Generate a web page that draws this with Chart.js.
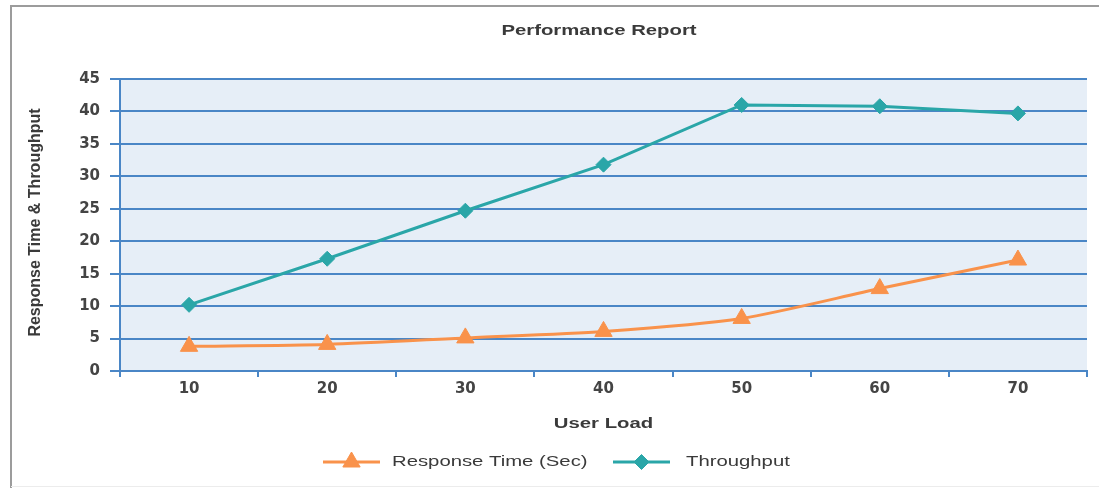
<!DOCTYPE html>
<html>
<head>
<meta charset="utf-8">
<script src="https://cdn.jsdelivr.net/npm/chart.js@4"></script>
<style>
  html, body { margin: 0; padding: 0; background: #ffffff; }
  canvas { display: block; }
</style>
</head>
<body>
<canvas id="c" width="1099" height="488"></canvas>
<script>
// ---- data ----
const categories = ['10', '20', '30', '40', '50', '60', '70'];
const responseTime = [3.8, 4.1, 5.1, 6.1, 8.1, 12.7, 17.1];
const throughput = [10.2, 17.3, 24.7, 31.8, 41.0, 40.8, 39.7];
const yMin = 0, yMax = 45, yStep = 5;

const titleText = 'Performance Report';
const xTitle = 'User Load';
const yTitle = 'Response Time & Throughput';
const seriesNames = ['Response Time (Sec)', 'Throughput'];

// ---- styles ----
const ORANGE = '#F9924B';
const TEAL = '#2AA6A8';
const GRID = '#4A86C6';
const PLOT_BG = '#E6EEF7';
const TEXT = '#3a3a3a';
const SX = 1.45; // horizontal stretch of the reference's text

function stretchedText(ctx, text, x, y, font, align, sx) {
  ctx.save();
  ctx.translate(x, y);
  ctx.scale(sx, 1);
  ctx.font = font;
  ctx.fillStyle = TEXT;
  ctx.textAlign = align;
  ctx.textBaseline = 'middle';
  ctx.fillText(text, 0, 0);
  ctx.restore();
}

const decor = {
  id: 'decor',
  beforeDraw(chart) {
    const ctx = chart.ctx;
    const a = chart.chartArea;
    ctx.save();
    ctx.fillStyle = '#ffffff';
    ctx.fillRect(0, 0, chart.width, chart.height);
    // outer frame
    ctx.strokeStyle = '#9c9c9c';
    ctx.lineWidth = 2;
    ctx.beginPath();
    ctx.moveTo(11, chart.height);
    ctx.lineTo(11, 6);
    ctx.lineTo(chart.width, 6);
    ctx.stroke();
    ctx.strokeStyle = '#ececec';
    ctx.lineWidth = 1;
    ctx.beginPath();
    ctx.moveTo(11, 486.5);
    ctx.lineTo(chart.width, 486.5);
    ctx.stroke();
    // plot background
    ctx.fillStyle = PLOT_BG;
    ctx.fillRect(a.left, a.top, a.right - a.left, a.bottom - a.top);
    ctx.restore();
  },
  afterDraw(chart) {
    const ctx = chart.ctx;
    const a = chart.chartArea;
    // chart title
    stretchedText(ctx, titleText, 599, 31, 'bold 14px "Liberation Sans", Arial, sans-serif', 'center', SX);
    // x axis title
    stretchedText(ctx, xTitle, (a.left + a.right) / 2, 424, 'bold 14px "Liberation Sans", Arial, sans-serif', 'center', SX);
    // y axis title (rotated)
    ctx.save();
    ctx.translate(35.5, 222.5);
    ctx.rotate(-Math.PI / 2);
    ctx.font = 'bold 16px "Liberation Sans", Arial, sans-serif';
    ctx.fillStyle = TEXT;
    ctx.textAlign = 'center';
    ctx.textBaseline = 'middle';
    ctx.fillText(yTitle, 0, 0);
    ctx.restore();

    // legend
    const items = [
      { x0: 323, x1: 380, tx: 392 },
      { x0: 613, x1: 670, tx: 686 }
    ];
    const ly = 462;
    chart.data.datasets.forEach((ds, i) => {
      const it = items[i];
      ctx.save();
      ctx.strokeStyle = ds.borderColor;
      ctx.lineWidth = ds.borderWidth;
      ctx.beginPath();
      ctx.moveTo(it.x0, ly);
      ctx.lineTo(it.x1, ly);
      ctx.stroke();
      ctx.fillStyle = ds.pointBackgroundColor;
      ctx.strokeStyle = ds.pointBackgroundColor;
      ctx.lineWidth = 1;
      Chart.helpers.drawPoint(ctx, {
        pointStyle: ds.pointStyle,
        radius: ds.pointRadius,
        borderWidth: 1
      }, (it.x0 + it.x1) / 2, ly);
      ctx.restore();
      stretchedText(ctx, ds.label, it.tx, ly, '14px "Liberation Sans", Arial, sans-serif', 'left', SX);
    });
  }
};

new Chart(document.getElementById('c'), {
  type: 'line',
  data: {
    labels: categories,
    datasets: [
      {
        label: seriesNames[0],
        data: responseTime,
        borderColor: ORANGE,
        backgroundColor: ORANGE,
        pointBackgroundColor: ORANGE,
        pointBorderColor: ORANGE,
        borderWidth: 3,
        pointStyle: 'triangle',
        pointRadius: 10,
        pointBorderWidth: 1,
        tension: 0.25,
        fill: false
      },
      {
        label: seriesNames[1],
        data: throughput,
        borderColor: TEAL,
        backgroundColor: TEAL,
        pointBackgroundColor: TEAL,
        pointBorderColor: TEAL,
        borderWidth: 3,
        pointStyle: 'rectRot',
        pointRadius: 7.5,
        pointBorderWidth: 1,
        tension: 0,
        fill: false
      }
    ]
  },
  options: {
    responsive: false,
    animation: false,
    events: [],
    layout: { padding: { left: 0, right: 12, top: 79, bottom: 0 } },
    plugins: {
      legend: { display: false },
      title: { display: false },
      tooltip: { enabled: false }
    },
    scales: {
      x: {
        type: 'category',
        offset: true,
        afterFit(scale) { scale.height = 117; },
        grid: {
          offset: true,
          drawOnChartArea: false,
          drawTicks: true,
          tickLength: 6,
          color: GRID,
          lineWidth: 2
        },
        border: { color: GRID, width: 2 },
        ticks: {
          padding: 3,
          color: '#444444',
          font: { family: '"DejaVu Sans", sans-serif', size: 15, weight: 'bold' },
          maxRotation: 0
        }
      },
      y: {
        min: yMin,
        max: yMax,
        afterFit(scale) { scale.width = 120; },
        grid: {
          color: GRID,
          lineWidth: 2,
          drawTicks: true,
          tickLength: 10
        },
        border: { color: GRID, width: 2 },
        ticks: {
          stepSize: yStep,
          padding: 10,
          color: '#444444',
          font: { family: '"DejaVu Sans", sans-serif', size: 15, weight: 'bold' }
        }
      }
    }
  },
  plugins: [decor]
});
</script>
</body>
</html>
